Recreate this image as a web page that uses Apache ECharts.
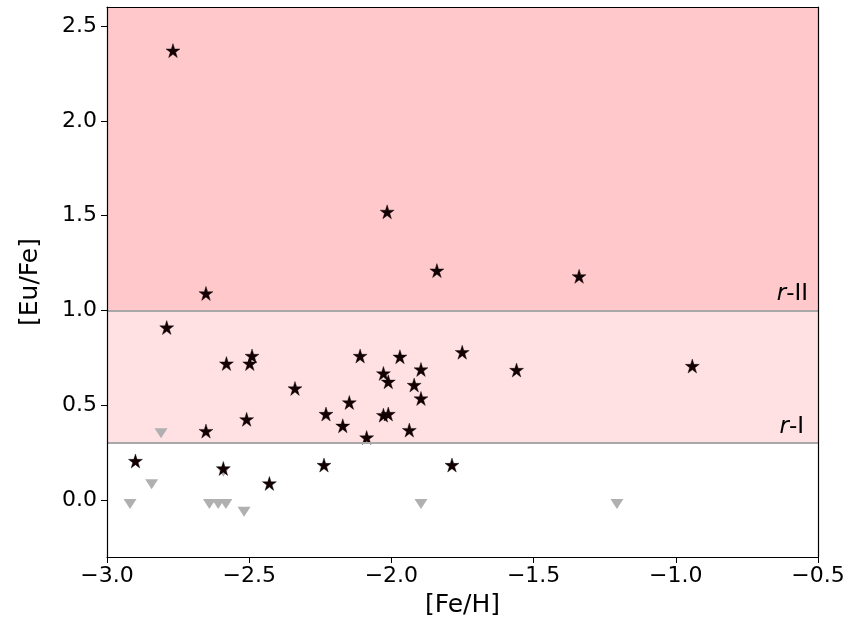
<!DOCTYPE html>
<html><head><meta charset="utf-8">
<script src="https://cdn.jsdelivr.net/npm/echarts@6/dist/echarts.min.js"></script>
<style>html,body{margin:0;padding:0;background:#fff}#c{width:852px;height:634px}</style>
</head><body><div id="c"></div>
<script>
// Detections (stars): [Fe/H], [Eu/Fe]
const starFeH = [-2.768,-2.015,-1.84,-1.34,-2.652,-2.79,-2.58,-2.49,-2.498,-2.11,-1.97,-1.751,-1.56,-2.028,-2.011,-1.896,-1.92,-1.896,-2.148,-2.23,-2.171,-2.087,-2.028,-2.011,-1.937,-2.339,-2.509,-2.652,-0.942,-2.90,-2.591,-2.429,-2.237,-1.787];
const starEuFe = [2.37,1.52,1.21,1.18,1.09,0.91,0.72,0.76,0.72,0.76,0.756,0.78,0.686,0.668,0.624,0.689,0.607,0.536,0.515,0.454,0.392,0.33,0.448,0.454,0.369,0.589,0.426,0.364,0.707,0.206,0.167,0.088,0.185,0.185];
// Upper limits (triangles)
const limFeH = [-2.81,-2.843,-2.919,-2.64,-2.609,-2.582,-2.518,-2.591,-1.896,-1.207];
const limEuFe = [0.352,0.083,-0.02,-0.02,-0.02,-0.02,-0.062,0.15,-0.02,-0.02];
const xTicks = [-3.0,-2.5,-2.0,-1.5,-1.0,-0.5];
const yTicks = [0.0,0.5,1.0,1.5,2.0,2.5];
const rIIlevel = 1.0, rIlevel = 0.3;

const fmt = v => (v < 0 ? '\u2212' : '') + Math.abs(v).toFixed(1);
const font = 'DejaVu Sans';
const starPath = 'path://M50,0 L61.8,36.2 L100,36.2 L69.1,58.8 L80.9,95.1 L50,72.7 L19.1,95.1 L30.9,58.8 L0,36.2 L38.2,36.2 Z';
const lblStyle = {fontFamily:font,fontSize:23,color:'#000',rich:{i:{fontStyle:'italic',fontFamily:font,fontSize:23,color:'#000'}}};
const spine = {onZero:false,lineStyle:{color:'#000',width:1.2}};

const chart = echarts.init(document.getElementById('c'), null, {renderer:'canvas'});
chart.setOption({
  animation:false,
  backgroundColor:'#fff',
  grid:{left:107,right:34,top:7,bottom:77},
  xAxis:[{type:'value',z:10,min:-3,max:-0.5,interval:0.5,
    name:'[Fe/H]',nameLocation:'middle',nameGap:36,
    nameTextStyle:{fontFamily:font,fontSize:25,color:'#000'},
    axisLine:spine,
    axisTick:{show:true,length:6,lineStyle:{color:'#000'}},
    axisLabel:{fontFamily:font,fontSize:22,color:'#000',margin:8,formatter:fmt,showMinLabel:true,showMaxLabel:true},
    splitLine:{show:false}},
    {type:'value',z:10,position:'top',min:-3,max:-0.5,interval:0.5,axisLine:spine,axisTick:{show:false},axisLabel:{show:false},splitLine:{show:false}}],
  yAxis:[{type:'value',z:10,min:-0.3,max:2.6,
    name:'[Eu/Fe]',nameLocation:'middle',nameGap:64,
    nameTextStyle:{fontFamily:font,fontSize:25,color:'#000'},
    axisLine:spine,
    axisTick:{show:true,length:6,customValues:yTicks,lineStyle:{color:'#000'}},
    axisLabel:{fontFamily:font,fontSize:22,color:'#000',margin:10,customValues:yTicks,formatter:fmt},
    splitLine:{show:false}},
    {type:'value',z:10,position:'right',min:-0.3,max:2.6,axisLine:spine,axisTick:{show:false},axisLabel:{show:false},splitLine:{show:false}}],
  series:[
    {type:'scatter',name:'bands',data:[],silent:true,z:1,
      markArea:{silent:true,data:[
        [{yAxis:rIIlevel,itemStyle:{color:'#ffc9cb',opacity:1}},{yAxis:2.6}],
        [{yAxis:rIlevel,itemStyle:{color:'#ffe1e3',opacity:1}},{yAxis:rIIlevel}]
      ]},
      markLine:{silent:true,symbol:'none',lineStyle:{color:'#a8a8a8',width:2,type:'solid'},
        data:[
          {yAxis:rIIlevel,label:Object.assign({show:true,position:'insideEndTop',distance:[10,5],formatter:'{i|r}-II'},lblStyle)},
          {yAxis:rIlevel,label:Object.assign({show:true,position:'insideEndTop',distance:[14,5],formatter:'{i|r}-I'},lblStyle)}
        ]}},
    {type:'scatter',name:'limits',z:3,symbol:'triangle',symbolRotate:180,symbolSize:[13,10],
      itemStyle:{color:'#b0b0b0',opacity:1},data:limFeH.map((x,i)=>[x,limEuFe[i]])},
    {type:'scatter',name:'stars',z:4,symbol:starPath,symbolSize:14,
      itemStyle:{color:'#140003',borderColor:'#000',borderWidth:0.4,opacity:1},
      data:starFeH.map((x,i)=>[x,starEuFe[i]])}
  ]
});
</script></body></html>
